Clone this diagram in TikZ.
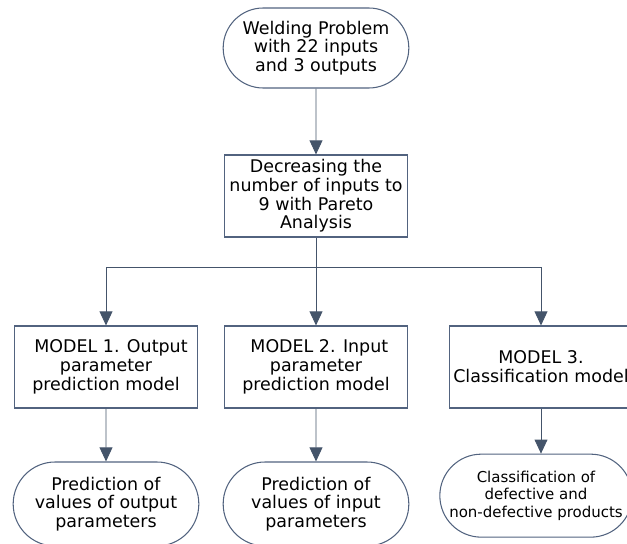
\documentclass[tikz,border=0pt]{standalone}
\usepackage{fontspec}
\setmainfont{DejaVu Sans}
\usepackage{xcolor}
\usepackage{tikz}
\usetikzlibrary{arrows.meta,shapes.misc}
\definecolor{linecol}{HTML}{44546A}
\definecolor{boxcol}{HTML}{52637F}
\tikzset{
box/.style = {rectangle, draw=boxcol, line width=0.9pt, minimum width = #1, minimum height=2.46cm, align=center, inner sep=1pt},
box/.default = 5.49cm, % width of the model boxes
pill/.style = {rounded rectangle, draw=boxcol, line width=0.9pt, minimum width = #1, align=center, inner sep=1pt},
pill/.default = 5.64cm,
arr/.style = {draw=linecol, line width=0.8pt, -{Triangle[length=12pt, width=11pt]}, color=linecol},
}

\begin{document}
\begin{tikzpicture}[font=\fontsize{14.9}{16}\selectfont]
    \useasboundingbox (0,0) rectangle (18.81,-16.32);
    \clip (0,0) rectangle (18.81,-16.32);
    \node[pill, minimum height=2.4cm] (welding) at (9.48,-1.44) {Welding Problem\\with 22 inputs\\and 3 outputs};
    \node[box] (pareto) at (9.48,-5.88) {Decreasing the\\number of inputs to\\9 with Pareto\\Analysis};
    \coordinate (split) at (9.48,-8.01);
    \node[box] (model1) at (3.18,-11.01) {\hspace{0.3cm}MODEL 1. Output\\parameter\\prediction model};
    \node[box] (model2) at (9.48,-11.01) {\hspace{0.2cm}MODEL 2. Input\\parameter\\prediction model};
    \node[box] (model3) at (16.23,-11.01) {MODEL 3.\\Classification model};
    \node[pill, minimum height=2.52cm] (out1) at (3.18,-15.12) {Prediction of\\values of output\\parameters};
    \node[pill, minimum height=2.52cm] (out2) at (9.48,-15.12) {Prediction of\\values of input\\parameters};
    \node[pill=5.4cm, minimum height=2.49cm, font=\fontsize{12.8}{15}\selectfont] (out3) at (16.08,-14.87) {Classification of\\defective and\\non-defective products};

    \draw[arr]  (welding) -- (pareto);
    \draw[draw=linecol, line width=0.8pt]  (pareto) -- (split);
    \draw[arr]  (split) -| (model1.north);
    \draw[arr]  (split) -- (model2);
    \draw[arr]  (split) -| (model3.north);

    \draw[arr]  (model1) -- (out1);
    \draw[arr]  (model2) -- (out2);
    \draw[arr]  (model3.south) -- (model3.south |- out3.north);
\end{tikzpicture}
\end{document}
